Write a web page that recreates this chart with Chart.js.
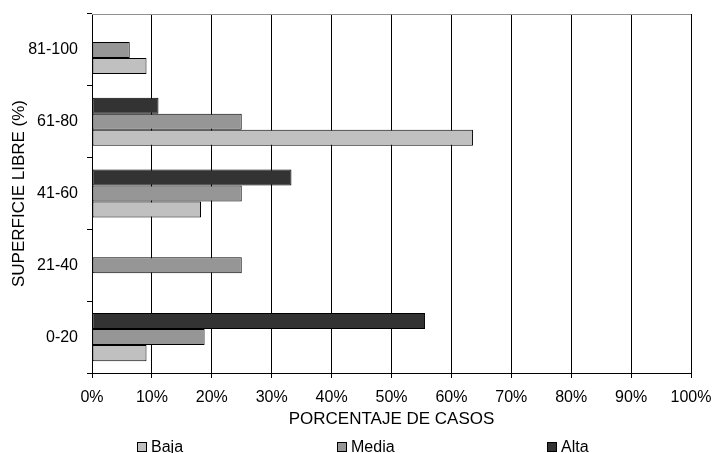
<!DOCTYPE html>
<html>
<head>
<meta charset="utf-8">
<script src="https://cdn.jsdelivr.net/npm/chart.js@4/dist/chart.umd.min.js"></script>
<style>
    body { margin: 0; background: #fff; overflow: hidden; }
    #wrap { position: relative; width: 712px; height: 453px; }
    #legend {
        position: absolute; left: 0; top: 439px; width: 712px; height: 16px;
        font: 16px "Liberation Sans", Arial, sans-serif; line-height: 16px; color: #000;
    }
    #legend .item { position: absolute; top: 0; white-space: nowrap; }
    #legend .box {
        display: inline-block; box-sizing: border-box; width: 10px; height: 10px;
        border: 1px solid #000; margin-right: 4px; vertical-align: 0px;
    }
</style>
</head>
<body>
<div id="wrap">
    <canvas id="chart" width="712" height="453"></canvas>
    <div id="legend"></div>
</div>
<script>
    // categories, bottom to top
    const categories = ['0-20', '21-40', '41-60', '61-80', '81-100'];
    const seriesNames = ['Baja', 'Media', 'Alta'];
    const bajaValues = [9.1, 0, 18.2, 63.6, 9.1];
    const mediaValues = [18.8, 25, 25, 25, 6.3];
    const altaValues = [55.6, 0, 33.3, 11.1, 0];
    const xTickValues = [0, 10, 20, 30, 40, 50, 60, 70, 80, 90, 100];

    const seriesColors = { Baja: '#c0c0c0', Media: '#969696', Alta: '#333333' };
    const seriesValues = { Baja: bajaValues, Media: mediaValues, Alta: altaValues };
    const family = '"Liberation Sans", Arial, sans-serif';
    const tickFont = { family: family, size: 16 };

    // top-most bar first, so Alta goes first
    const datasets = ['Alta', 'Media', 'Baja'].map(name => ({
        label: name,
        data: seriesValues[name],
        backgroundColor: seriesColors[name],
        borderColor: '#000',
        borderWidth: 1,
        borderSkipped: false,
        categoryPercentage: 0.67,
        barPercentage: 1
    }));

    const plotBorder = {
        id: 'plotBorder',
        beforeDatasetsDraw(chart) {
            const { ctx, chartArea } = chart;
            ctx.save();
            ctx.strokeStyle = '#909090';
            ctx.lineWidth = 1;
            ctx.beginPath();
            ctx.moveTo(chartArea.left, Math.round(chartArea.top) + 0.5);
            ctx.lineTo(chartArea.right, Math.round(chartArea.top) + 0.5);
            ctx.stroke();
            ctx.restore();
        }
    };

    new Chart(document.getElementById('chart'), {
        type: 'bar',
        data: { labels: categories, datasets: datasets },
        plugins: [plotBorder],
        options: {
            indexAxis: 'y',
            responsive: false,
            animation: false,
            devicePixelRatio: 1,
            layout: { padding: { top: 14, right: 21, bottom: 23, left: 0 } },
            scales: {
                x: {
                    min: 0,
                    max: 100,
                    afterBuildTicks: axis => { axis.ticks = xTickValues.map(v => ({ value: v })); },
                    afterFit: axis => {
                        axis.height = 57;
                        axis.paddingLeft = 0;
                        axis.paddingRight = 0;
                    },
                    ticks: {
                        color: '#000',
                        font: tickFont,
                        padding: 10,
                        maxRotation: 0,
                        callback: v => v + '%'
                    },
                    grid: { color: '#000', lineWidth: 1, tickLength: 5, drawOnChartArea: true },
                    border: { display: true, color: '#000', width: 1 },
                    title: {
                        display: true,
                        text: 'PORCENTAJE DE CASOS',
                        color: '#000',
                        font: { family: family, size: 17 },
                        padding: { top: 0, bottom: 0 }
                    }
                },
                y: {
                    reverse: true,
                    afterFit: axis => {
                        axis.width = 92;
                        axis.paddingTop = 0;
                        axis.paddingBottom = 0;
                    },
                    ticks: { color: '#000', font: tickFont, padding: 9 },
                    grid: { offset: true, color: '#000', tickLength: 5, drawOnChartArea: false },
                    border: { display: true, color: '#000', width: 1 },
                    title: {
                        display: true,
                        text: 'SUPERFICIE LIBRE (%)',
                        color: '#000',
                        font: { family: family, size: 17, lineHeight: 1 },
                        padding: { top: 10.5, bottom: 0 }
                    }
                }
            },
            plugins: {
                legend: { display: false },
                tooltip: { enabled: false }
            }
        }
    });

    // legend below the axis title
    const legend = document.getElementById('legend');
    const legendLeft = [137, 337, 547];
    seriesNames.forEach((name, i) => {
        legend.insertAdjacentHTML('beforeend',
            `<span class="item" style="left:${legendLeft[i]}px"><span class="box" style="background:${seriesColors[name]}"></span>${name}</span>`
        );
    });
</script>
</body>
</html>
